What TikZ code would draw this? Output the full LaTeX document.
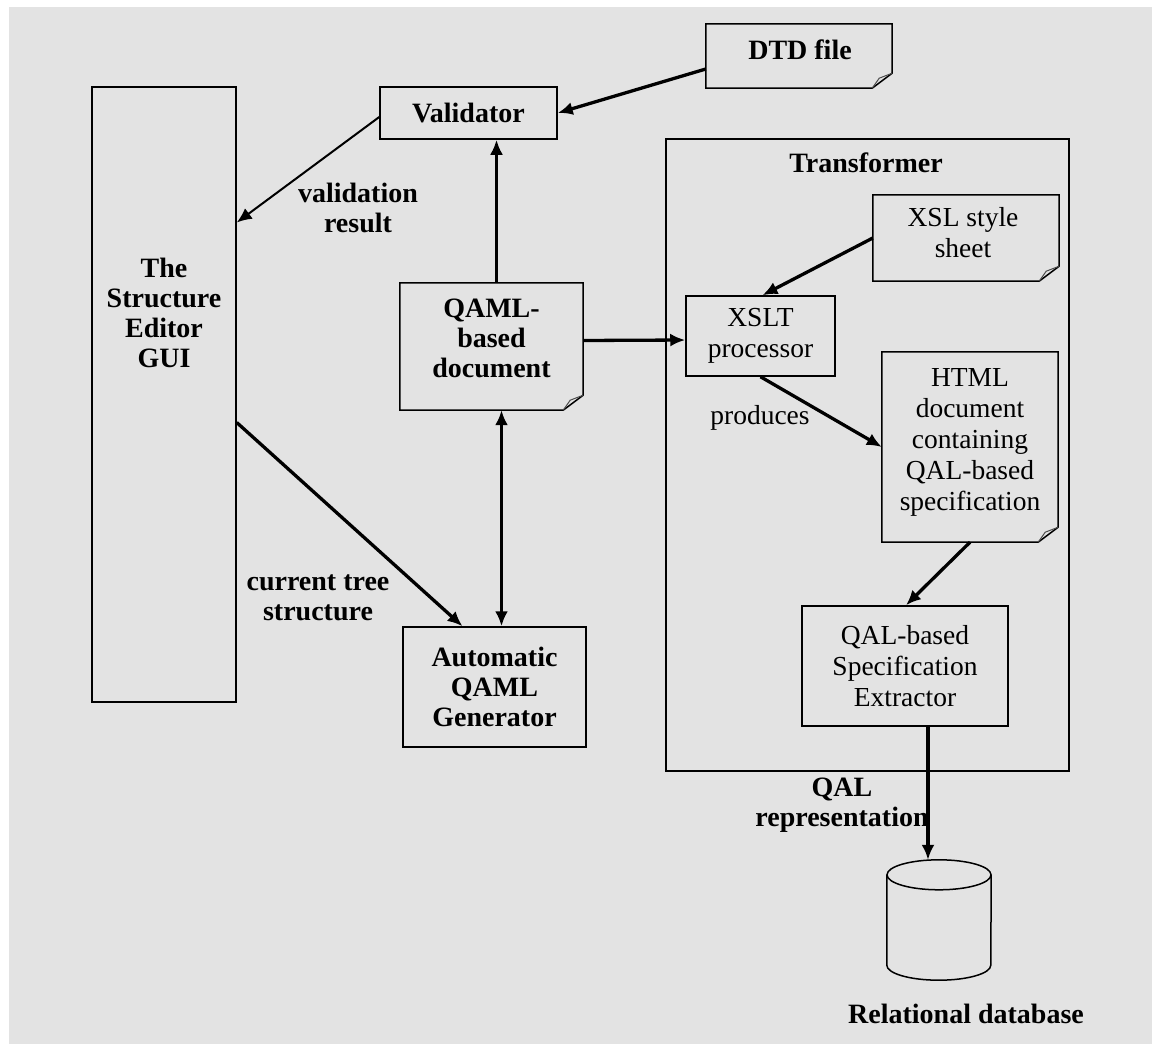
\documentclass[tikz,border=0pt]{standalone}
\usepackage{fontspec}
\setmainfont{Liberation Serif}
\usetikzlibrary{arrows.meta,calc}
\definecolor{bgcol}{RGB}{227,227,227}

% outline of a document symbol with a folded lower right corner
\newcommand\docoutline[1]{%
  \draw[line width=1.5pt] (#1.north west) -- (#1.north east)
    -- ([yshift=15pt]#1.south east) -- ([xshift=-20pt]#1.south east)
    -- (#1.south west) -- cycle;
  \draw[fold] ([xshift=-20pt]#1.south east) -- ([xshift=-13pt,yshift=10pt]#1.south east)
    -- ([yshift=15pt]#1.south east);
}

\begin{document}
\begin{tikzpicture}[x=1pt,y=-1pt,
  box/.style={draw, line width=1.5pt, inner sep=0pt, align=center},
  plain/.style={inner sep=0pt, align=center},
  bold/.style={font=\bfseries\fontsize{28}{30}\selectfont},
  reg/.style={font=\fontsize{27.5}{31}\selectfont},
  tip/.style={-{Latex[length=15pt,width=13pt]}},
  arr/.style={line width=3.3pt, tip},
  fold/.style={line width=1pt, black!70}]

\useasboundingbox (0,0) rectangle (1152,1044);
\fill[white] (0,0) rectangle (1152,1044);
\fill[bgcol] (9,7) rectangle (1152,1044);

% left: editor GUI
\node[box, minimum width=144pt, minimum height=615pt] (gui) at (164,394.5) {};
\node[plain, bold] (guitext) at (164,313) {The\\Structure\\Editor\\GUI};

% validation
\node[box, bold, minimum width=177pt, minimum height=52pt] (val) at (468.5,113) {Validator};
\node[plain, bold, minimum width=186pt, minimum height=64pt] (dtd) at (799,56) {};
\node[plain, bold] (dtdtext) at (800,50) {DTD file};
\docoutline{dtd}

% QAML document and generator
\node[plain, bold, minimum width=183pt, minimum height=127pt] (qaml) at (491.5,346.5) {};
\node[plain, bold] (qamltext) at (491.5,338) {QAML-\\based\\document};
\docoutline{qaml}
\node[box, bold, minimum width=183pt, minimum height=120pt] (gen) at (494.5,687) {Automatic\\QAML\\Generator};

% transformer
\node[box, minimum width=403pt, minimum height=632pt] (trans) at (867.5,455) {};
\node[plain, bold] (transtext) at (866,163) {Transformer};
\node[plain, reg, minimum width=186pt, minimum height=86pt] (xsl) at (966,238) {};
\node[plain, reg] (xsltext) at (963,233) {XSL style\\sheet};
\docoutline{xsl}
\node[box, reg, minimum width=149pt, minimum height=80pt] (xslt) at (760.5,336) {XSLT\\processor};
\node[plain, reg, minimum width=176pt, minimum height=190pt] (html) at (970,447) {};
\node[plain, reg] (htmltext) at (970,442) {HTML\\document\\containing\\QAL-based\\specification};
\docoutline{html}
\node[box, reg, minimum width=206pt, minimum height=120pt] (ext) at (905,666) {QAL-based\\Specification\\Extractor};

% database cylinder
\node[plain, minimum width=104pt, minimum height=120pt] (db) at (939,920) {};
\draw[line width=1.5pt] ([yshift=-15pt]db.north) ellipse [x radius=52pt, y radius=15pt];
\draw[line width=1.5pt] ([yshift=-15pt]db.north west) -- ([yshift=15pt]db.south west)
  arc[start angle=180, end angle=360, x radius=52pt, y radius=15pt]
  -- ([yshift=-15pt]db.north east);
\node[plain, bold] (dbtext) at (966,1014) {Relational database};

% edge labels
\node[plain, bold] (lval) at (358,208) {validation\\result};
\node[plain, bold] (lcur) at (318,598) {current tree\\structure};
\node[plain, reg] (lprod) at (760,418) {produces};
\node[plain, bold] (lqal) at (842,805) {QAL\\representation};

% connectors
\draw[arr] ([yshift=-13pt]dtd.west) -- (val.east);
\draw[arr, line width=2pt] ([yshift=-4pt]val.west) -- ([yshift=172pt]gui.east);
\draw[arr] ($(qaml.north)+(5,0)$) -- ($(val.south)+(28,0)$);
\draw[arr] ($(qaml.east)+(0,-6)$) -- ($(xslt.west)+(0,4)$);
\draw[line width=3.3pt, {Latex[length=15pt,width=13pt]}-{Latex[length=15pt,width=13pt]}]
  ($(qaml.south)+(10,0)$) -- ($(gen.north)+(7,0)$);
\draw[arr] ($(gui.east)+(0,28)$) -- ($(gen.north)+(-32,0)$);
\draw[arr] (xsl.west) -- ($(xslt.north)+(2,0)$);
\draw[arr] (xslt.south) -- (html.west);
\draw[arr] (html.south) -- ($(ext.north)+(1,0)$);
\draw[arr] ($(ext.south)+(23,0)$) -- ($(db.north)+(-11,0)$);
\end{tikzpicture}
\end{document}
